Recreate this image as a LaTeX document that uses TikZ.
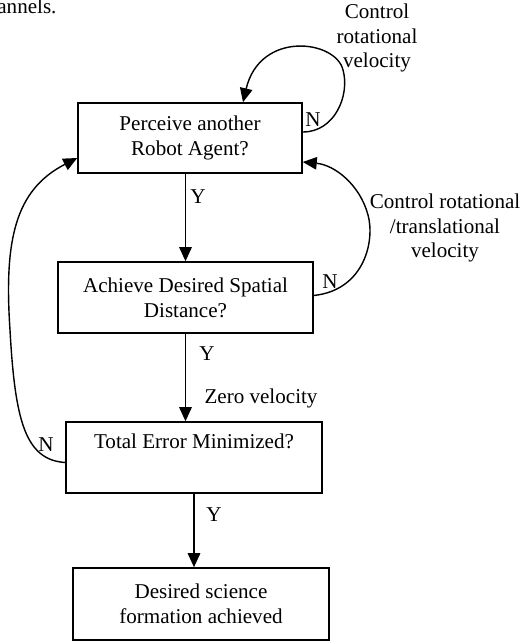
\documentclass[tikz,border=0pt]{standalone}
\usepackage{fontspec}
\setmainfont{Liberation Serif}
\usetikzlibrary{arrows.meta,calc}

\begin{document}
\begin{tikzpicture}[
    x=0.02cm, y=-0.02cm,
    box/.style={draw, line width=0.9pt, minimum height=1.42cm, align=center, font=\fontsize{12}{14.2}\selectfont},
    lbl/.style={inner sep=0pt, align=center, font=\fontsize{12}{14.2}\selectfont},
    arr/.style={-{Triangle[length=0.28cm, width=0.25cm]}, line width=0.8pt}
]
\useasboundingbox (0,0) rectangle (531,642);

% Boxes
\node[box, minimum width=4.48cm, minimum height=1.4cm] (b1) at (190,138) {Perceive another\\Robot Agent?};
\node[box, minimum width=5.1cm] (b2) at (185.5,297.5) {Achieve Desired Spatial\\Distance?};
\node[box, minimum width=5.12cm] (b3) at (194,457.5) {Total Error Minimized?\\ \strut};
\node[box, minimum width=5.12cm, minimum height=1.44cm] (b4) at (201,604) {Desired science\\formation achieved};

% Labels
\node[lbl, anchor=base west] (cap) at (-3,14) {annels.};
\node[lbl] (c1) at (377,38) {Control\\rotational\\velocity};
\node[lbl] (c2) at (445,228) {Control rotational\\/translational\\velocity};
\node[lbl] (zero) at (261,398) {Zero velocity};
\node[lbl] (y1) at (198,197) {Y};
\node[lbl] (y2) at (207,354) {Y};
\node[lbl] (y3) at (214,515) {Y};
\node[lbl] (n1) at (313,120) {N};
\node[lbl] (n2) at (330,282) {N};
\node[lbl] (n3) at (46,445) {N};

% Edges
\draw[arr] (b2.north |- b1.south) -- (b2.north);
\draw[arr] (b2.south) -- (b2.south |- b3.north);
\draw[arr] (b3.south) -- (b3.south |- b4.north);

% Loops
\draw[arr] ($(b1.east)+(0,-6)$) .. controls (335,132) and (350,95) .. (343,70)
    .. controls (336,40) and (260,30) .. ($(b1.north)+(53,0)$);
\draw[arr] ($(b2.east)+(0,-2)$) .. controls (365,290) and (375,240) .. (368,215)
    .. controls (360,185) and (335,165) .. ($(b1.east)+(0,24)$);
\draw[arr] ($(b3.west)+(0,5)$) .. controls (25,460) and (15,420) .. (10,330)
    .. controls (4,240) and (15,190) .. ($(b1.west)+(0,20)$);

\end{tikzpicture}
\end{document}
